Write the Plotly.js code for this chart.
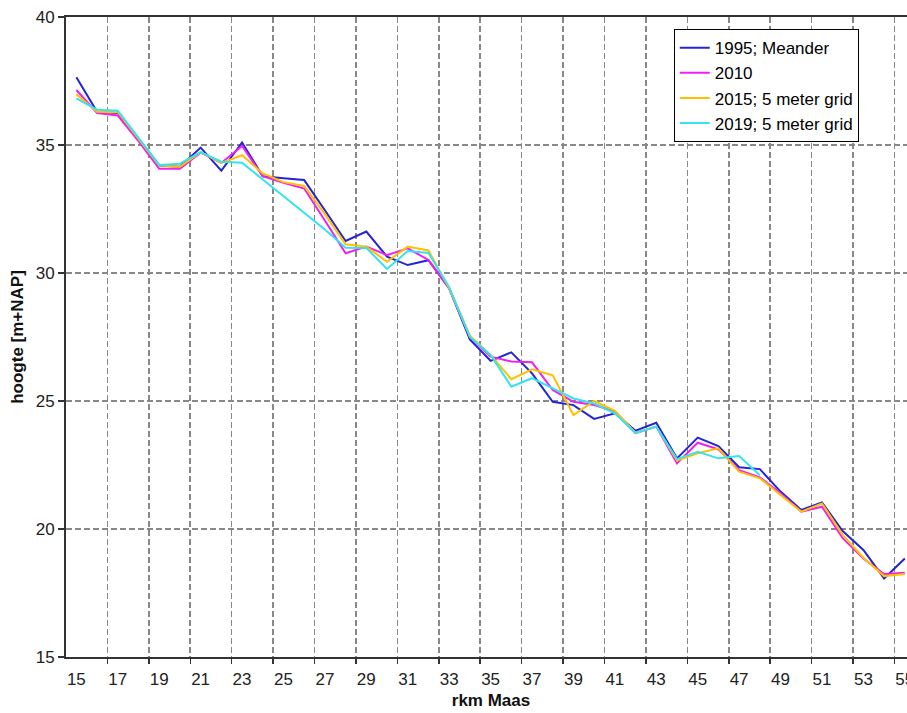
<!DOCTYPE html>
<html><head><meta charset="utf-8">
<script src="https://cdn.plot.ly/plotly-3.0.1.min.js"></script>
<style>html,body{margin:0;padding:0;overflow:hidden;background:#fff}</style>
</head><body><div id="chart" style="width:916px;height:713px"></div>
<script>
// rivierkilometer (categories)
const rkm = [15,16,17,18,19,20,21,22,23,24,25,26,27,28,29,30,31,32,33,34,35,
             36,37,38,39,40,41,42,43,44,45,46,47,48,49,50,51,52,53,54,55];
// series values (hoogte m+NAP)
const y1995 = [37.65,36.30,36.25,35.25,34.20,34.15,34.90,34.00,35.10,33.78,33.70,33.63,32.45,31.25,31.62,30.64,30.31,30.50,29.40,27.40,26.57,
               26.90,26.08,24.97,24.84,24.30,24.52,23.84,24.15,22.76,23.57,23.24,22.41,22.34,21.46,20.74,21.04,19.92,19.18,18.07,18.85];
const y2010 = [37.15,36.25,36.15,35.15,34.07,34.07,34.70,34.30,34.96,33.78,33.52,33.30,32.05,30.77,31.03,30.70,30.96,30.51,29.40,27.50,26.73,
               26.54,26.51,25.43,24.97,24.84,24.60,23.75,24.00,22.56,23.37,23.11,22.30,22.02,21.40,20.68,20.87,19.64,18.85,18.24,18.29];
const y2015 = [36.98,36.30,36.28,35.25,34.20,34.15,34.72,34.30,34.60,33.89,33.55,33.40,32.30,31.12,31.03,30.44,31.03,30.88,29.40,27.55,26.80,
               25.85,26.24,26.00,24.45,25.00,24.62,23.75,24.00,22.67,22.96,23.15,22.24,21.98,21.34,20.68,21.00,19.77,18.88,18.16,18.24];
const y2019 = [36.82,36.38,36.34,35.30,34.22,34.27,34.72,34.35,34.31,33.65,33.00,32.35,31.70,30.99,30.98,30.16,30.86,30.78,29.45,27.50,26.80,
               25.56,25.89,25.49,25.10,24.90,24.52,23.75,24.00,22.73,23.02,22.76,22.85,22.10,null,null,null,null,null,null,null];
const seriesNames = ['1995; Meander','2010','2015; 5 meter grid','2019; 5 meter grid'];
const seriesColors = ['#2424d4','#f020f0','#ffc000','#33e4ee'];
const xTickLabels = [15,17,19,21,23,25,27,29,31,33,35,37,39,41,43,45,47,49,51,53,55];
const yTicks = [15,20,25,30,35,40];
// category boundaries (grid lines lie between categories)
const xBoundaries = xTickLabels.map(v => v + 1.5);

const seriesY = [y1995, y2010, y2015, y2019];
const traces = seriesY.map((ys, i) => ({
  type: 'scatter', mode: 'lines', x: rkm, y: ys, name: seriesNames[i],
  line: {color: seriesColors[i], width: 2}, connectgaps: false, xaxis: 'x', yaxis: 'y'
}));
// empty helper trace so the boundary (grid) axis gets drawn
traces.unshift({type: 'scatter', mode: 'lines', x: xBoundaries, y: xBoundaries.map(() => null),
  xaxis: 'x2', yaxis: 'y', showlegend: false, hoverinfo: 'skip'});

const narrow = 'Liberation Sans Narrow, Arial Narrow, Liberation Sans, Arial, sans-serif';
const sans = 'Liberation Sans, Arial, sans-serif';
const xRange = [14.5, 55.54];

const layout = {
  width: 916, height: 713,
  margin: {l: 66, r: 0, t: 17, b: 56},
  paper_bgcolor: '#fff', plot_bgcolor: '#fff',
  showlegend: true,
  legend: {x: 0.715, y: 0.981, xanchor: 'left', yanchor: 'top',
           bgcolor: '#fff', bordercolor: '#000', borderwidth: 1,
           font: {family: sans, size: 17, color: '#000'}, tracegroupgap: 0},
  xaxis: {
    range: xRange, tickmode: 'array', tickvals: xTickLabels,
    ticks: 'outside', ticklen: 6, tickcolor: 'rgba(0,0,0,0)',
    showgrid: false, zeroline: false,
    showline: true, linecolor: '#333', linewidth: 2, mirror: true,
    tickfont: {family: narrow, size: 17, color: '#222'},
    title: {text: '<b>rkm Maas</b>', font: {family: sans, size: 17, color: '#111'}, standoff: 6},
    automargin: false
  },
  xaxis2: {
    overlaying: 'x', anchor: 'y', side: 'bottom', range: xRange,
    tickmode: 'array', tickvals: xBoundaries, showticklabels: false,
    ticks: 'outside', ticklen: 6, tickcolor: '#333', tickwidth: 1.5,
    showgrid: true, gridcolor: '#888', gridwidth: 1.6, griddash: '6px,3px',
    zeroline: false, showline: false, automargin: false
  },
  yaxis: {
    range: [15, 40], tickmode: 'array', tickvals: yTicks,
    ticks: 'outside', ticklen: 6, tickcolor: '#333', tickwidth: 1.5,
    showgrid: true, gridcolor: '#888', gridwidth: 1.6, griddash: '6px,3px',
    zeroline: false, showline: true, linecolor: '#333', linewidth: 2, mirror: true,
    tickfont: {family: narrow, size: 17, color: '#222'},
    title: {text: '<b>hoogte [m+NAP]</b>', font: {family: sans, size: 17, color: '#111'}, standoff: 8},
    automargin: false
  }
};

Plotly.newPlot('chart', traces, layout, {staticPlot: true, displayModeBar: false});
</script>
</body></html>
